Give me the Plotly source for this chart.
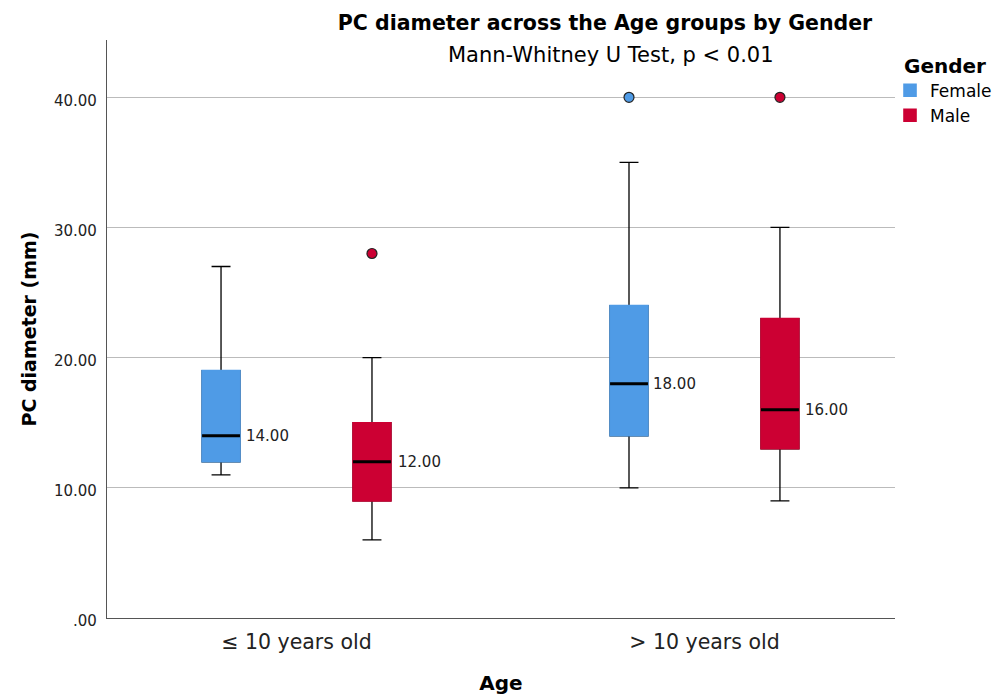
import plotly.graph_objects as go

age_groups = ["≤ 10 years old", "> 10 years old"]

female_low = [11, 10]
female_q1 = [12, 14]
female_med = [14, 18]
female_q3 = [19, 24]
female_high = [27, 35]
female_out_x = ["> 10 years old"]
female_out_y = [40]

male_low = [6, 9]
male_q1 = [9, 13]
male_med = [12, 16]
male_q3 = [15, 23]
male_high = [20, 30]
male_out_x = ["≤ 10 years old", "> 10 years old"]
male_out_y = [28, 40]

y_ticks = [0, 10, 20, 30, 40]
y_tick_labels = [".00", "10.00", "20.00", "30.00", "40.00"]

FONT = "DejaVu Sans"
BLUE = "#4F9BE6"
RED = "#CC0033"

fig = go.Figure()

series = [
    ("Female", BLUE, female_low, female_q1, female_med, female_q3, female_high, female_out_x, female_out_y),
    ("Male", RED, male_low, male_q1, male_med, male_q3, male_high, male_out_x, male_out_y),
]

for name, color, lo, q1, med, q3, hi, ox, oy in series:
    # whiskers
    fig.add_trace(go.Box(
        x=age_groups, q1=q1, median=med, q3=q3, lowerfence=lo, upperfence=hi,
        name=name, offsetgroup=name, legendgroup=name, showlegend=False,
        line=dict(color="black", width=1.3), fillcolor="rgba(0,0,0,0)",
        whiskerwidth=0.5, hoverinfo="skip",
    ))
    # body
    fig.add_trace(go.Box(
        x=age_groups, q1=q1, median=med, q3=q3, lowerfence=q1, upperfence=q3,
        name=name, offsetgroup=name, legendgroup=name, showlegend=True,
        line=dict(color=color, width=1.6), fillcolor=color,
        whiskerwidth=0, hoverinfo="skip",
    ))
    # median line
    fig.add_trace(go.Box(
        x=age_groups, q1=med, median=med, q3=med, lowerfence=med, upperfence=med,
        name=name, offsetgroup=name, legendgroup=name, showlegend=False,
        line=dict(color="black", width=3), fillcolor="rgba(0,0,0,0)",
        whiskerwidth=0, hoverinfo="skip",
    ))
    # outliers
    fig.add_trace(go.Box(
        x=ox, y=oy, name=name, offsetgroup=name, legendgroup=name, showlegend=False,
        boxpoints="all", jitter=0, pointpos=0,
        line=dict(color="rgba(0,0,0,0)", width=0), fillcolor="rgba(0,0,0,0)",
        marker=dict(color=color, size=10, line=dict(color="#222222", width=1.2)),
    ))

# median value labels
label_shift = {"Female": -53, "Male": 99}
for name, med in (("Female", female_med), ("Male", male_med)):
    for g, m in zip(age_groups, med):
        fig.add_annotation(
            x=g, y=m, xref="x", yref="y", text=f"{m:.2f}", showarrow=False,
            xanchor="left", yanchor="middle", xshift=label_shift[name],
            font=dict(family=FONT, size=15, color="#222222"),
        )

# subtitle
fig.add_annotation(
    x=0.639, y=0.974, xref="paper", yref="paper", yanchor="middle",
    text="Mann-Whitney U Test, p &lt; 0.01", showarrow=False,
    font=dict(family=FONT, size=21, color="black"),
)

# the page body adds an 8px margin, so the figure is sized to fit inside the window
fig.update_layout(
    width=995, height=687,
    margin=dict(l=99, r=108, t=32, b=77, autoexpand=False),
    paper_bgcolor="white", plot_bgcolor="white",
    boxmode="group", boxgap=0.26, boxgroupgap=0.749,
    font=dict(family=FONT, color="black"),
    title=dict(
        text="<b>PC diameter across the Age groups by Gender</b>",
        x=0.600, xanchor="center", y=0.979, yanchor="middle",
        font=dict(family=FONT, size=20.5, color="black"),
    ),
    legend=dict(
        title=dict(text="<b>Gender</b>", font=dict(family=FONT, size=20)),
        x=1.0089, xanchor="left", y=0.9885, yanchor="top",
        font=dict(family=FONT, size=17), tracegroupgap=0,
        indentation=-12,
        bgcolor="rgba(0,0,0,0)",
    ),
    xaxis=dict(
        type="category", range=[-0.4645, 1.467], automargin=False,
        showline=True, linecolor="#555555", linewidth=1.3,
        showgrid=False, ticks="", ticklabelstandoff=5,
        tickfont=dict(family=FONT, size=20.5, color="#222222"),
        title=dict(text="<b>Age</b>", font=dict(family=FONT, size=20), standoff=34),
    ),
    yaxis=dict(
        range=[0, 44.4], tickvals=y_ticks, ticktext=y_tick_labels, automargin=False,
        showline=True, linecolor="#555555", linewidth=1.3,
        showgrid=True, gridcolor="#BBBBBB", gridwidth=1.3,
        zeroline=False, ticks="", ticklabelshift=3, ticklabelstandoff=6,
        tickfont=dict(family=FONT, size=15, color="#222222"),
        title=dict(text="<b>PC diameter (mm)</b>", font=dict(family=FONT, size=19), standoff=12),
    ),
)

fig.write_html("out.html")
